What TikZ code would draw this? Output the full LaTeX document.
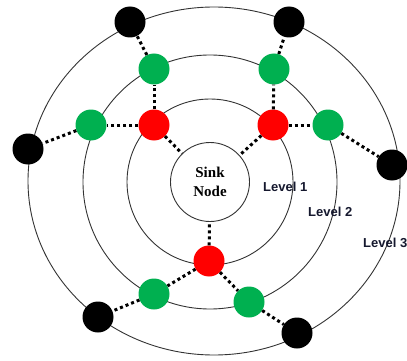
\documentclass[tikz,border=0pt]{standalone}
\usepackage{fontspec}
\newfontfamily\lvlfont{Liberation Sans}
\newfontfamily\sinkfont{Liberation Serif}
\definecolor{nodegreen}{HTML}{00B050}
\definecolor{nodered}{HTML}{FF0000}
\definecolor{lvltext}{HTML}{15182E}
\begin{document}
\begin{tikzpicture}[x=1pt,y=-1pt,
  ring/.style={draw=black!80,line width=0.9pt},
  sensor/.style={circle,inner sep=0pt,minimum size=31pt},
  blacknode/.style={sensor,fill=black},
  greennode/.style={sensor,fill=nodegreen},
  rednode/.style={sensor,fill=nodered},
  dotline/.style={line width=3pt,dash pattern=on 3pt off 3pt,black},
  lvl/.style={anchor=west,inner sep=0pt,text=lvltext,font=\fontsize{13}{15}\selectfont\lvlfont\bfseries}]
\useasboundingbox (0,0) rectangle (407,361);
% rings
\draw[ring] (210,182) circle[radius=83];
\draw[ring] (210,182) circle[radius=127];
\draw[ring] (214,181) ellipse[x radius=186,y radius=174];
% sink
\node[circle,draw=black!80,line width=0.9pt,fill=white,minimum size=79pt,inner sep=0pt,align=center,
  font=\fontsize{15}{18.5}\selectfont\sinkfont\bfseries] (sink) at (210,182) {Sink\\Node};
% level 1
\node[rednode] (r1) at (154,125) {};
\node[rednode] (r2) at (273,125) {};
\node[rednode] (r3) at (209,261) {};
% level 2
\node[greennode] (g1) at (154,69) {};
\node[greennode] (g2) at (91,125) {};
\node[greennode] (g3) at (274,69) {};
\node[greennode] (g4) at (328,125) {};
\node[greennode] (g5) at (154,294) {};
\node[greennode] (g6) at (249,302) {};
% level 3
\node[blacknode] (b1) at (130,22) {};
\node[blacknode] (b2) at (28,149) {};
\node[blacknode] (b3) at (289,22) {};
\node[blacknode] (b4) at (392,165) {};
\node[blacknode] (b5) at (98,317) {};
\node[blacknode] (b6) at (297,333) {};
% connectors
\draw[dotline] (r1) -- (sink);
\draw[dotline] (r2) -- (sink);
\draw[dotline] (r3) -- (sink);
\draw[dotline] (r1) -- (g1);
\draw[dotline] (r1) -- (g2);
\draw[dotline] (r2) -- (g3);
\draw[dotline] (r2) -- (g4);
\draw[dotline] (r3) -- (g5);
\draw[dotline] (r3) -- (g6);
\draw[dotline] (g1) -- (b1);
\draw[dotline] (g2) -- (b2);
\draw[dotline] (g3) -- (b3);
\draw[dotline] (g4) -- (b4);
\draw[dotline] (g5) -- (b5);
\draw[dotline] (g6) -- (b6);
% labels
\node[lvl] (l1) at (263,187) {Level 1};
\node[lvl] (l2) at (308,212) {Level 2};
\node[lvl] (l3) at (363,243) {Level 3};
\end{tikzpicture}
\end{document}
